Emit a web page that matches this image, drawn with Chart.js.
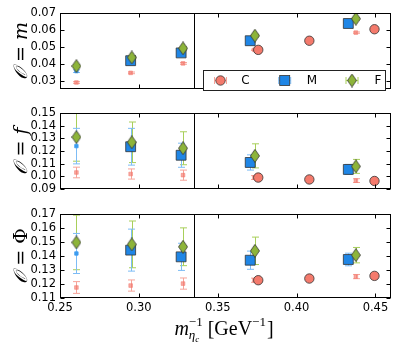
<!DOCTYPE html>
<html>
<head>
<meta charset="utf-8">
<script src="https://cdn.jsdelivr.net/npm/chart.js@4.4.0/dist/chart.umd.min.js"></script>
<style>
    body { margin: 0; background: #fff; }
    #wrap { position: relative; width: 399px; height: 352px; }
    .panel { position: absolute; left: 0; width: 399px; }
</style>
</head>
<body>
<div id="wrap">
    <div class="panel" style="top:0;height:100px"><canvas id="chartM"></canvas></div>
    <div class="panel" style="top:100px;height:100px"><canvas id="chartF"></canvas></div>
    <div class="panel" style="top:200px;height:152px"><canvas id="chartPhi"></canvas></div>
</div>
<script>
// x positions (m_etac^-1) for each marker family
const xTickVals = [0.25, 0.30, 0.35, 0.40, 0.45];
const xSplit = 0.3352;
const xPink  = [0.2604, 0.2948, 0.3280, 0.3733, 0.4376];
const xBlue  = [0.2604, 0.2948, 0.3268, 0.3706, 0.4328];
const xGreen = [0.2604, 0.2955, 0.3280, 0.3736, 0.4376];
const xRed   = [0.3757, 0.4081, 0.4494];

// O = m
const mTicks    = [0.03, 0.04, 0.05, 0.06, 0.07];
const mPink     = [0.0289, 0.0346, 0.0402, 0.0482, 0.0584];
const mPinkErr  = [0.0005, 0.0005, 0.0005, 0.0004, 0.0004];
const mBlue     = [0.0356, 0.0418, 0.0464, 0.0536, 0.0638];
const mBlueErr  = [0.0008, 0.0008, 0.0008, 0.0006, 0.0006];
const mGreen    = [0.0386, 0.0437, 0.0491, 0.0566, 0.0666];
const mGreenErr = [0.0010, 0.0010, 0.0010, 0.0008, 0.0008];
const mRed      = [0.0482, 0.0536, 0.0604];

// O = f
const fTicks    = [0.09, 0.10, 0.11, 0.12, 0.13, 0.14, 0.15];
const fPink     = [0.1031, 0.1019, 0.1010, 0.0991, 0.0967];
const fPinkErr  = [0.0042, 0.0040, 0.0040, 0.0015, 0.0015];
const fBlue     = [0.1239, 0.1234, 0.1167, 0.1110, 0.1055];
const fBlueErr  = [0.0140, 0.0145, 0.0095, 0.0060, 0.0040];
const fGreen    = [0.1310, 0.1269, 0.1222, 0.1162, 0.1079];
const fGreenErr = [0.0190, 0.0160, 0.0130, 0.0095, 0.0055];
const fRed      = [0.0991, 0.0976, 0.0964];

// O = Phi
const pTicks    = [0.11, 0.12, 0.13, 0.14, 0.15, 0.16, 0.17];
const pPink     = [0.1175, 0.1189, 0.1203, 0.1227, 0.1253];
const pPinkErr  = [0.0042, 0.0040, 0.0040, 0.0015, 0.0015];
const pBlue     = [0.1418, 0.1442, 0.1394, 0.1370, 0.1375];
const pBlueErr  = [0.0143, 0.0150, 0.0097, 0.0065, 0.0045];
const pGreen    = [0.1497, 0.1483, 0.1466, 0.1437, 0.1406];
const pGreenErr = [0.0195, 0.0167, 0.0135, 0.0098, 0.0055];
const pRed      = [0.1227, 0.1239, 0.1258];

const legendLabels = ['C', 'M', 'F'];

const RED = '#f47a6c', BLUE = '#1f86e6', GREEN = '#8db43a';
const PINK = 'rgba(243,120,108,0.65)';
const EDGE = '#333333';

const pts = (xs, ys) => xs.map((x, i) => ({ x: x, y: ys[i] }));

function diamondImg() {
    const c = document.createElement('canvas');
    c.width = 10; c.height = 14;
    const g = c.getContext('2d');
    g.beginPath();
    g.moveTo(5, 0.5); g.lineTo(9.5, 7); g.lineTo(5, 13.5); g.lineTo(0.5, 7);
    g.closePath();
    g.fillStyle = GREEN; g.fill();
    g.strokeStyle = EDGE; g.lineWidth = 0.8; g.stroke();
    return c;
}
const diamond = diamondImg();

// error bars, drawn under the markers
const errPlugin = {
    id: 'errbars',
    beforeDatasetsDraw(chart) {
        const ctx = chart.ctx, ys = chart.scales.y, a = chart.chartArea;
        ctx.save();
        ctx.beginPath();
        ctx.rect(a.left, a.top, a.right - a.left, a.bottom - a.top);
        ctx.clip();
        chart.data.datasets.forEach((ds, i) => {
            if (!ds.errors) return;
            ctx.strokeStyle = ds.errColor;
            ctx.lineWidth = 1;
            chart.getDatasetMeta(i).data.forEach((el, j) => {
                const v = ds.data[j].y, e = ds.errors[j];
                const y1 = ys.getPixelForValue(v + e), y2 = ys.getPixelForValue(v - e);
                const x = Math.round(el.x) + 0.5;
                ctx.beginPath();
                ctx.moveTo(x, y1); ctx.lineTo(x, y2);
                ctx.moveTo(x - 3.5, y1); ctx.lineTo(x + 3.5, y1);
                ctx.moveTo(x - 3.5, y2); ctx.lineTo(x + 3.5, y2);
                ctx.stroke();
            });
        });
        ctx.restore();
    }
};

// frame, inward ticks, split line, y label
const framePlugin = {
    id: 'frame',
    afterDatasetsDraw(chart) {
        const ctx = chart.ctx, a = chart.chartArea;
        const xs = chart.scales.x, ys = chart.scales.y;
        const L = Math.round(a.left) + 0.5, R = Math.round(a.right) - 0.5;
        const T = Math.round(a.top) + 0.5, B = Math.round(a.bottom) - 0.5;
        ctx.save();
        ctx.strokeStyle = '#000';
        ctx.lineWidth = 1;
        ctx.beginPath();
        ys.ticks.forEach(t => {
            const y = Math.round(ys.getPixelForValue(t.value)) + 0.5;
            ctx.moveTo(L, y); ctx.lineTo(L + 4, y);
            ctx.moveTo(R, y); ctx.lineTo(R - 4, y);
        });
        xTickVals.forEach(v => {
            const x = Math.round(xs.getPixelForValue(v)) + 0.5;
            ctx.moveTo(x, T); ctx.lineTo(x, T + 4);
            ctx.moveTo(x, B); ctx.lineTo(x, B - 4);
        });
        const xs0 = Math.round(xs.getPixelForValue(xSplit)) + 0.5;
        ctx.moveTo(xs0, T); ctx.lineTo(xs0, B);
        ctx.stroke();
        ctx.strokeRect(L, T, R - L, B - T);
        ctx.restore();
    },
    afterDraw(chart) {
        const ctx = chart.ctx, a = chart.chartArea;
        const o = chart.options.plugins.frame;
        const parts = [
            { t: '\u{1D4AA}', f: 'italic 19px "DejaVu Serif"' },
            { t: ' = ', f: '19px "DejaVu Serif"' },
            { t: o.sym, f: (o.italic ? 'italic ' : '') + '19px "DejaVu Serif"' }
        ];
        ctx.save();
        let w = 0;
        parts.forEach(p => { ctx.font = p.f; p.w = ctx.measureText(p.t).width; w += p.w; });
        ctx.translate(22, (a.top + a.bottom) / 2);
        ctx.rotate(-Math.PI / 2);
        ctx.fillStyle = '#000';
        ctx.textBaseline = 'alphabetic';
        let x = -w / 2;
        parts.forEach(p => { ctx.font = p.f; ctx.fillText(p.t, x, 5); x += p.w; });
        ctx.restore();
    }
};

// legend box in the top panel
const legendPlugin = {
    id: 'legendBox',
    afterDraw(chart) {
        if (!chart.options.plugins.legendBox.show) return;
        const ctx = chart.ctx;
        ctx.save();
        ctx.fillStyle = '#fff';
        ctx.fillRect(203.5, 70.5, 182, 20);
        ctx.strokeStyle = '#222';
        ctx.lineWidth = 1;
        ctx.strokeRect(203.5, 70.5, 182, 20);
        const cy = 80.5;
        const mx = [220.5, 284.7, 352], tx = [245.5, 312, 378];
        const errCols = ['#f6a49a', '#7dbcf5', '#a8cf5a'];
        mx.forEach((x, i) => {
            ctx.strokeStyle = errCols[i];
            ctx.beginPath();
            ctx.moveTo(x - 6, cy); ctx.lineTo(x + 6, cy);
            ctx.moveTo(x - 6, cy - 3.5); ctx.lineTo(x - 6, cy + 3.5);
            ctx.moveTo(x + 6, cy - 3.5); ctx.lineTo(x + 6, cy + 3.5);
            ctx.stroke();
        });
        ctx.lineWidth = 0.8;
        ctx.strokeStyle = EDGE;
        ctx.fillStyle = RED;
        ctx.beginPath(); ctx.arc(mx[0], cy, 4.7, 0, Math.PI * 2); ctx.fill(); ctx.stroke();
        ctx.fillStyle = BLUE;
        ctx.fillRect(mx[1] - 5, cy - 5, 10, 10); ctx.strokeRect(mx[1] - 5, cy - 5, 10, 10);
        ctx.drawImage(diamond, mx[2] - 5, cy - 7);
        ctx.fillStyle = '#000';
        ctx.font = '12px "DejaVu Sans"';
        ctx.textAlign = 'center';
        ctx.textBaseline = 'middle';
        legendLabels.forEach((l, i) => ctx.fillText(l, tx[i], cy + 0.5));
        ctx.restore();
    }
};

// x title with sub/superscripts
const xTitlePlugin = {
    id: 'xTitle',
    afterDraw(chart) {
        if (!chart.options.plugins.xTitle.show) return;
        const ctx = chart.ctx;
        const base = 135;
        const big = '20px "Liberation Serif"', bigI = 'italic 20px "Liberation Serif"';
        const small = '13px "Liberation Serif"', smallI = 'italic 13px "Liberation Serif"';
        const tiny = 'italic 9px "Liberation Serif"';
        ctx.save();
        const mw = (f, t) => { ctx.font = f; return ctx.measureText(t).width; };
        const wM = mw(bigI, 'm'), wEta = mw(smallI, '\u03B7'), wC = mw(tiny, 'c');
        const wSup = mw(small, '\u22121');
        const wSub = Math.max(wEta + wC, wSup);
        const wOpen = mw(big, ' [GeV'), wClose = mw(big, ']');
        const total = wM + wSub + wOpen + wSup + wClose + 1;
        let x = 224 - total / 2;
        ctx.fillStyle = '#000';
        ctx.textBaseline = 'alphabetic';
        ctx.font = bigI; ctx.fillText('m', x, base); x += wM;
        ctx.font = smallI; ctx.fillText('\u03B7', x, base + 4);
        ctx.font = tiny; ctx.fillText('c', x + wEta, base + 7);
        ctx.font = small; ctx.fillText('\u22121', x, base - 9);
        x += wSub;
        ctx.font = big; ctx.fillText(' [GeV', x, base); x += wOpen;
        ctx.font = small; ctx.fillText('\u22121', x, base - 9); x += wSup + 1;
        ctx.font = big; ctx.fillText(']', x, base);
        ctx.restore();
    }
};

function makeChart(id, cfg) {
    const datasets = [
        { data: pts(xGreen, cfg.green), errors: cfg.greenErr, errColor: '#a8cf5a',
          pointStyle: diamond },
        { data: pts(xRed, cfg.red), pointStyle: 'circle', pointRadius: 4.7,
          backgroundColor: RED, borderColor: EDGE, borderWidth: 0.8 },
        { data: pts(xBlue, cfg.blue), errors: cfg.blueErr, errColor: '#7dbcf5',
          pointStyle: 'rect',
          pointRadius: c => c.dataIndex === 0 ? 2.4 : 7,
          backgroundColor: c => c.dataIndex === 0 ? '#3d9df0' : BLUE,
          borderColor: c => c.dataIndex === 0 ? '#3d9df0' : EDGE,
          borderWidth: 0.8 },
        { data: pts(xPink, cfg.pink), errors: cfg.pinkErr, errColor: '#f6a49a',
          pointStyle: 'rect', pointRadius: 2.6,
          backgroundColor: PINK, borderColor: 'rgba(243,120,108,0.5)', borderWidth: 1 }
    ];
    return new Chart(document.getElementById(id), {
        type: 'scatter',
        data: { datasets: datasets },
        plugins: [errPlugin, framePlugin, legendPlugin, xTitlePlugin],
        options: {
            responsive: true,
            maintainAspectRatio: false,
            animation: false,
            layout: { padding: cfg.padding },
            plugins: {
                legend: { display: false },
                tooltip: { enabled: false },
                frame: { sym: cfg.sym, italic: cfg.italic },
                legendBox: { show: !!cfg.legend },
                xTitle: { show: !!cfg.xTitle }
            },
            scales: {
                x: {
                    type: 'linear', min: 0.25, max: 0.46,
                    display: !!cfg.xTitle,
                    grid: { display: false, drawTicks: false },
                    border: { display: false },
                    afterBuildTicks: s => { s.ticks = xTickVals.map(v => ({ value: v })); },
                    afterFit: s => { s.height = cfg.xTitle ? 54 : 0; },
                    ticks: {
                        padding: 3,
                        autoSkip: false,
                        maxRotation: 0,
                        color: '#000',
                        font: { family: 'DejaVu Sans', size: 11.5 },
                        callback: v => v.toFixed(2)
                    }
                },
                y: {
                    min: cfg.yMin, max: cfg.yMax,
                    grid: { display: false, drawTicks: false },
                    border: { display: false },
                    afterBuildTicks: s => { s.ticks = cfg.ticks.map(v => ({ value: v })); },
                    afterFit: s => { s.width = 60; },
                    ticks: {
                        padding: 4,
                        autoSkip: false,
                        color: '#000',
                        font: { family: 'DejaVu Sans', size: 11.5 },
                        callback: v => v.toFixed(2)
                    }
                }
            }
        }
    });
}

makeChart('chartM', {
    yMin: 0.025, yMax: 0.07, ticks: mTicks, sym: 'm', italic: true, legend: true,
    padding: { top: 13, bottom: 4, left: 0, right: 7 },
    pink: mPink, pinkErr: mPinkErr, blue: mBlue, blueErr: mBlueErr,
    green: mGreen, greenErr: mGreenErr, red: mRed
});
makeChart('chartF', {
    yMin: 0.09, yMax: 0.15, ticks: fTicks, sym: 'f', italic: true,
    padding: { top: 13, bottom: 3, left: 0, right: 7 },
    pink: fPink, pinkErr: fPinkErr, blue: fBlue, blueErr: fBlueErr,
    green: fGreen, greenErr: fGreenErr, red: fRed
});
makeChart('chartPhi', {
    yMin: 0.11, yMax: 0.17, ticks: pTicks, sym: '\u03A6', italic: false, xTitle: true,
    padding: { top: 14, bottom: 0, left: 0, right: 7 },
    pink: pPink, pinkErr: pPinkErr, blue: pBlue, blueErr: pBlueErr,
    green: pGreen, greenErr: pGreenErr, red: pRed
});
</script>
</body>
</html>
